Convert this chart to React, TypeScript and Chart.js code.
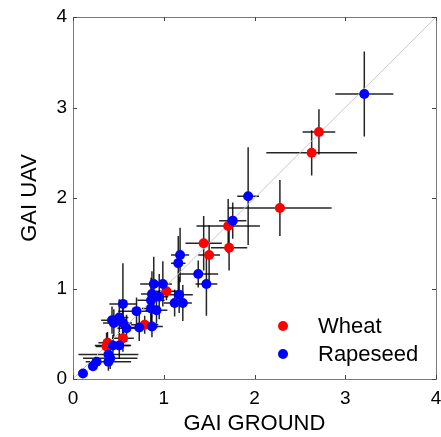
import React, { useEffect, useRef } from "react";
import { Chart, registerables } from "chart.js";

Chart.register(...registerables);

// Wheat
const wheatGround = [2.71, 2.63, 2.28, 1.71, 1.72, 1.44, 1.50, 1.03, 0.79, 0.55, 0.38, 0.37];
const wheatUav = [2.73, 2.50, 1.89, 1.69, 1.45, 1.50, 1.37, 0.97, 0.60, 0.45, 0.40, 0.36];
const wheatGroundErr = [0.18, 0.50, 0.57, 0.35, 0.20, 0.20, 0.12, 0.12, 0.15, 0.12, 0.10, 0.12];
const wheatUavErr = [0.25, 0.25, 0.31, 0.30, 0.25, 0.30, 0.33, 0.10, 0.10, 0.15, 0.12, 0.15];

// Rapeseed
const rapeGround = [3.21, 1.93, 1.76, 1.18, 1.16, 1.38, 1.47, 0.89, 0.99, 0.87, 0.95, 0.86, 1.17, 1.12, 1.21, 0.86, 0.92, 0.70, 0.55, 0.43, 0.51, 0.45, 0.55, 0.59, 0.73, 0.87, 0.44, 0.51, 0.39, 0.41, 0.26, 0.22, 0.11, 0.39];
const rapeUav = [3.15, 2.02, 1.75, 1.37, 1.28, 1.16, 1.05, 1.05, 1.05, 0.94, 0.91, 0.87, 0.93, 0.84, 0.84, 0.78, 0.76, 0.75, 0.83, 0.65, 0.68, 0.62, 0.62, 0.56, 0.57, 0.58, 0.37, 0.37, 0.27, 0.23, 0.19, 0.14, 0.06, 0.19];
const rapeGroundErr = [0.32, 0.12, 0.15, 0.10, 0.08, 0.22, 0.12, 0.15, 0.10, 0.12, 0.10, 0.15, 0.15, 0.12, 0.10, 0.10, 0.12, 0.20, 0.15, 0.12, 0.10, 0.12, 0.10, 0.10, 0.20, 0.12, 0.20, 0.12, 0.33, 0.30, 0.05, 0.05, 0.03, 0.25];
const rapeUavErr = [0.47, 0.54, 0.20, 0.30, 0.30, 0.15, 0.35, 0.30, 0.25, 0.25, 0.25, 0.25, 0.20, 0.15, 0.20, 0.20, 0.15, 0.15, 0.45, 0.15, 0.20, 0.15, 0.20, 0.15, 0.15, 0.12, 0.12, 0.15, 0.10, 0.12, 0.05, 0.05, 0.03, 0.10];

const axisTicks = [0, 1, 2, 3, 4];
const identityLine = [0, 4];

const FONT = "'Liberation Sans', Arial, sans-serif";

function toPoints(xs: number[], ys: number[], xe: number[], ye: number[]) {
  return xs.map((x, i) => ({ x, y: ys[i], xe: xe[i], ye: ye[i] }));
}

const errorBarPlugin = {
  id: "errorBars",
  beforeDatasetsDraw(chart: any) {
    const ctx = chart.ctx;
    const xs = chart.scales.x;
    const ys = chart.scales.y;
    ctx.save();
    ctx.strokeStyle = "rgba(0,0,0,0.85)";
    ctx.lineWidth = 1.5;
    chart.data.datasets.forEach((ds: any) => {
      if (!ds.errorBars) return;
      ds.data.forEach((p: any) => {
        const cx = xs.getPixelForValue(p.x);
        const cy = ys.getPixelForValue(p.y);
        ctx.beginPath();
        ctx.moveTo(xs.getPixelForValue(p.x - p.xe), cy);
        ctx.lineTo(xs.getPixelForValue(p.x + p.xe), cy);
        ctx.moveTo(cx, ys.getPixelForValue(p.y - p.ye));
        ctx.lineTo(cx, ys.getPixelForValue(p.y + p.ye));
        ctx.stroke();
      });
    });
    ctx.restore();
  },
};

const framePlugin = {
  id: "frame",
  afterDraw(chart: any) {
    const ctx = chart.ctx;
    const { left, right, top, bottom } = chart.chartArea;
    const xs = chart.scales.x;
    const ys = chart.scales.y;
    ctx.save();
    ctx.strokeStyle = "#7a7a7a";
    ctx.lineWidth = 1;
    ctx.strokeRect(Math.round(left) + 0.5, Math.round(top) + 0.5, Math.round(right - left), Math.round(bottom - top));
    ctx.strokeStyle = "#444";
    const tl = 4;
    ctx.beginPath();
    axisTicks.forEach((v) => {
      const px = Math.round(xs.getPixelForValue(v)) + 0.5;
      ctx.moveTo(px, bottom);
      ctx.lineTo(px, bottom - tl);
      ctx.moveTo(px, top);
      ctx.lineTo(px, top + tl);
      const py = Math.round(ys.getPixelForValue(v)) + 0.5;
      ctx.moveTo(left, py);
      ctx.lineTo(left + tl, py);
      ctx.moveTo(right, py);
      ctx.lineTo(right - tl, py);
    });
    ctx.stroke();

    // legend
    const items = chart.data.datasets.filter((d: any) => d.errorBars);
    const lx = 283;
    let ly = 326;
    ctx.font = `22px ${FONT}`;
    ctx.textBaseline = "middle";
    ctx.textAlign = "left";
    items.forEach((d: any) => {
      ctx.fillStyle = d.backgroundColor;
      ctx.beginPath();
      ctx.arc(lx, ly, 5, 0, Math.PI * 2);
      ctx.fill();
      ctx.fillStyle = "#000";
      ctx.fillText(d.label, 318, ly + 1);
      ly += 28;
    });
    ctx.restore();
  },
};

export default function App() {
  const ref = useRef<HTMLCanvasElement | null>(null);
  useEffect(() => {
    if (!ref.current) return;
    const chart = new Chart(ref.current, {
      type: "scatter",
      data: {
        datasets: [
          {
            type: "line",
            label: "1:1",
            data: identityLine.map((v) => ({ x: v, y: v })),
            borderColor: "#c8c8c8",
            borderWidth: 1,
            pointRadius: 0,
            fill: false,
            order: 3,
          } as any,
          {
            label: "Wheat",
            data: toPoints(wheatGround, wheatUav, wheatGroundErr, wheatUavErr),
            backgroundColor: "#ff0000",
            borderColor: "#ff0000",
            pointRadius: 5,
            borderWidth: 0,
            errorBars: true,
            order: 2,
          } as any,
          {
            label: "Rapeseed",
            data: toPoints(rapeGround, rapeUav, rapeGroundErr, rapeUavErr),
            backgroundColor: "#0000ff",
            borderColor: "#0000ff",
            pointRadius: 5,
            borderWidth: 0,
            errorBars: true,
            order: 1,
          } as any,
        ],
      },
      options: {
        responsive: false,
        animation: false,
        layout: { padding: { left: 0, right: 5, top: 17, bottom: 0 } },
        plugins: { legend: { display: false }, tooltip: { enabled: false } },
        scales: {
          x: {
            type: "linear",
            min: 0,
            max: 4,
            afterFit: (s: any) => {
              s.height = 58;
              s.paddingLeft = 0;
              s.paddingRight = 0;
            },
            afterBuildTicks: (s: any) => {
              s.ticks = axisTicks.map((v) => ({ value: v }));
            },
            ticks: { font: { size: 19, family: FONT }, color: "#000", padding: 8 },
            grid: { display: false, drawTicks: false },
            border: { display: false },
            title: { display: true, text: "GAI GROUND", font: { size: 22, family: FONT }, color: "#000", padding: 0 },
          },
          y: {
            type: "linear",
            min: 0,
            max: 4,
            afterFit: (s: any) => {
              s.width = 73;
              s.paddingTop = 0;
              s.paddingBottom = 0;
            },
            afterBuildTicks: (s: any) => {
              s.ticks = axisTicks.map((v) => ({ value: v }));
            },
            ticks: { font: { size: 19, family: FONT }, color: "#000", padding: 6 },
            grid: { display: false, drawTicks: false },
            border: { display: false },
            title: { display: true, text: "GAI UAV", font: { size: 22, family: FONT }, color: "#000", padding: { top: 17, bottom: 0 } },
          },
        },
      },
      plugins: [errorBarPlugin, framePlugin],
    });
    return () => chart.destroy();
  }, []);
  return (
    <div style={{ position: "fixed", left: 0, top: 0, width: 441, height: 437, background: "#fff" }}>
      <canvas ref={ref} width={441} height={437} />
    </div>
  );
}
